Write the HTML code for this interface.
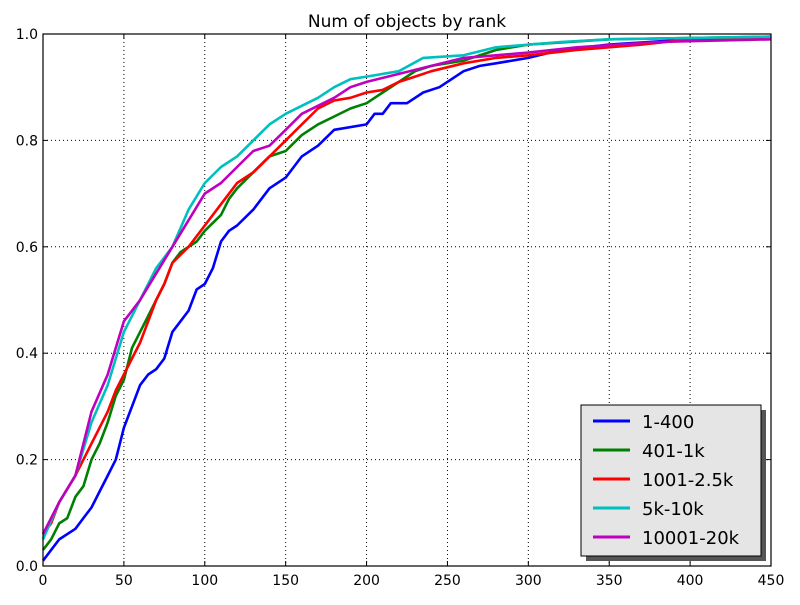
<!DOCTYPE html>
<html><head><meta charset="utf-8"><style>
body{margin:0;background:#fff;}
svg text{font-family:"DejaVu Sans","Liberation Sans",sans-serif;}
</style></head><body>
<svg id="chart" width="800" height="600"></svg>
<script>
const seriesNames=["1-400","401-1k","1001-2.5k","5k-10k","10001-20k"];
const seriesColors=["#0000ff","#008000","#ff0000","#00bfbf","#bf00bf"];
const xTicks=[0,50,100,150,200,250,300,350,400,450];
const yTicks=[0.0,0.2,0.4,0.6,0.8,1.0];
const blueX=[0,10,20,25,30,35,40,45,50,55,60,65,70,75,80,85,90,95,100,105,110,115,120,130,140,150,160,170,180,200,205,210,215,225,235,245,255,260,270,280,300,320,350,400,450];
const blueY=[0.01,0.05,0.07,0.09,0.11,0.14,0.17,0.2,0.26,0.3,0.34,0.36,0.37,0.39,0.44,0.46,0.48,0.52,0.53,0.56,0.61,0.63,0.64,0.67,0.71,0.73,0.77,0.79,0.82,0.83,0.85,0.85,0.87,0.87,0.89,0.9,0.92,0.93,0.94,0.945,0.955,0.97,0.98,0.99,0.995];
const greenX=[0,5,10,15,20,25,30,35,40,45,50,55,60,65,70,75,80,85,90,95,100,110,115,120,130,140,150,160,170,180,190,200,210,220,230,240,260,280,300,350,450];
const greenY=[0.03,0.05,0.08,0.09,0.13,0.15,0.2,0.23,0.27,0.32,0.35,0.41,0.44,0.47,0.5,0.53,0.57,0.59,0.6,0.61,0.63,0.66,0.69,0.71,0.74,0.77,0.78,0.81,0.83,0.845,0.86,0.87,0.89,0.91,0.93,0.94,0.95,0.97,0.98,0.99,0.995];
const redX=[0,5,10,20,30,40,45,50,55,60,65,70,75,80,90,100,110,120,130,140,150,160,170,180,190,200,210,220,230,240,260,280,300,330,370,400,450];
const redY=[0.06,0.08,0.12,0.17,0.23,0.29,0.33,0.36,0.39,0.42,0.46,0.5,0.53,0.57,0.6,0.64,0.68,0.72,0.74,0.77,0.8,0.83,0.86,0.875,0.88,0.89,0.895,0.91,0.92,0.93,0.945,0.955,0.96,0.97,0.98,0.99,0.995];
const cyanX=[0,10,20,30,40,50,60,70,80,90,100,110,120,130,140,150,160,170,180,190,200,220,235,260,280,320,350,450];
const cyanY=[0.05,0.12,0.17,0.27,0.34,0.44,0.5,0.56,0.6,0.67,0.72,0.75,0.77,0.8,0.83,0.85,0.865,0.88,0.9,0.915,0.92,0.93,0.955,0.96,0.975,0.985,0.99,0.995];
const magX=[0,10,20,30,40,50,60,70,80,90,100,110,120,130,140,150,160,170,180,190,200,220,240,260,280,300,330,380,450];
const magY=[0.06,0.12,0.17,0.29,0.36,0.46,0.5,0.55,0.6,0.65,0.7,0.72,0.75,0.78,0.79,0.82,0.85,0.865,0.88,0.9,0.91,0.925,0.94,0.955,0.96,0.965,0.975,0.985,0.99];
const allX=[blueX,greenX,redX,cyanX,magX];
const allY=[blueY,greenY,redY,cyanY,magY];

const L=43,R=771,T=34,B=566;
const sx=v=>L+(v-0)/(450-0)*(R-L);
const sy=v=>B-(v-0)/(1-0)*(B-T);
const svg=document.getElementById('chart');
const NS='http://www.w3.org/2000/svg';
function mk(tag,attrs){const e=document.createElementNS(NS,tag);for(const k in attrs)e.setAttribute(k,attrs[k]);svg.appendChild(e);return e;}

let t=mk('text',{x:407,y:27,'font-size':17,'text-anchor':'middle'});t.textContent='Num of objects by rank';



xTicks.forEach(v=>{
  const x=sx(v);
  if(v>0&&v<450){const g=mk('line',{x1:x,x2:x,y1:T,y2:B,stroke:'#000','stroke-dasharray':'1,3','stroke-width':1});
  
  }
  mk('line',{x1:x,x2:x,y1:B,y2:B-5,stroke:'#000'});
  mk('line',{x1:x,x2:x,y1:T,y2:T+5,stroke:'#000'});
  const l=mk('text',{x:x,y:B+19,'font-size':14,'text-anchor':'middle'});l.textContent=v;
  
  
});
yTicks.forEach(v=>{
  const y=sy(v);
  if(v>0&&v<1){const g=mk('line',{x1:L,x2:R,y1:y,y2:y,stroke:'#000','stroke-dasharray':'1,3','stroke-width':1});
  
  }
  mk('line',{x1:L,x2:L+5,y1:y,y2:y,stroke:'#000'});
  mk('line',{x1:R,x2:R-5,y1:y,y2:y,stroke:'#000'});
  const l=mk('text',{x:L-5,y:y+5,'font-size':14,'text-anchor':'end'});l.textContent=v.toFixed(1);
  
  
});

allX.forEach((xs,i)=>{
  const d=xs.map((x,j)=>(j?'L':'M')+sx(x).toFixed(1)+','+sy(allY[i][j]).toFixed(1)).join(' ');
  const p=mk('path',{d:d,fill:'none',stroke:seriesColors[i],'stroke-width':2.6,'stroke-linejoin':'round'});
  
  
});

const f=mk('rect',{x:L,y:T,width:R-L,height:B-T,fill:'none',stroke:'#000','stroke-width':1.2});



mk('rect',{x:586,y:410,width:180,height:151,fill:'#555'});
const lg=mk('rect',{x:581,y:405,width:180,height:151,fill:'#e5e5e5',stroke:'#000'});


seriesNames.forEach((n,i)=>{
  const y=421+i*29;
  mk('line',{x1:593,x2:630,y1:y,y2:y,stroke:seriesColors[i],'stroke-width':3});
  const tx=mk('text',{x:642,y:y+7,'font-size':18});tx.textContent=n;
  
  
});
</script>
</body></html>
